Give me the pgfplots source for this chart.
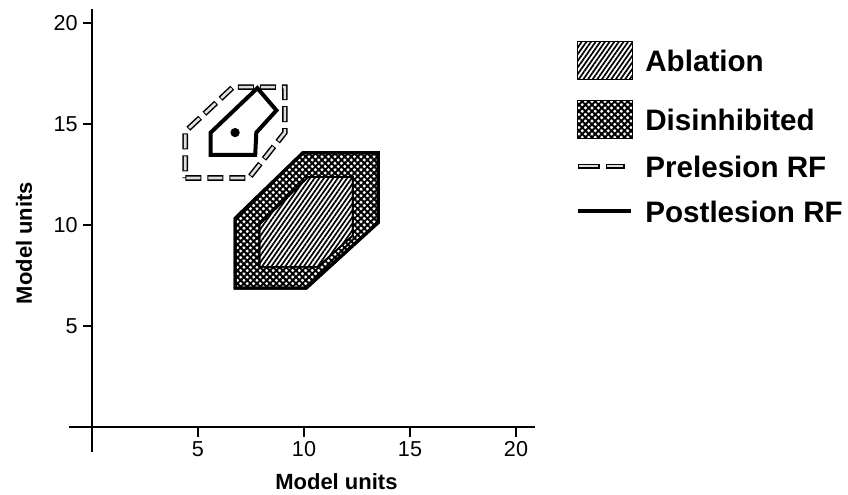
\documentclass[border=0pt]{standalone}
\usepackage{fontspec}
\setmainfont{Liberation Sans}
\usepackage{pgfplots}
\pgfplotsset{compat=1.18}
\usetikzlibrary{patterns.meta}
\tikzset{
  abl/.style={draw=black, line width=0.8bp, preaction={fill=white}, pattern={Lines[angle=55,distance=1.9bp,line width=0.85bp]}},
  dis/.style={draw=black, line width=1.6bp, preaction={fill=white}, pattern={Hatch[angle=45,distance=2.3bp,line width=1.0bp]}},
  disleg/.style={draw=black, line width=0.8bp, preaction={fill=white}, pattern={Hatch[angle=45,distance=2.3bp,line width=1.0bp]}},
  preout/.style={black, line width=2.8bp, line cap=butt, line join=miter, dash pattern=on 8bp off 3bp},
  prein/.style={gray!25, line width=1.3bp, line cap=butt, line join=miter, dash pattern=on 7bp off 4bp, dash phase=10.5bp},
  inv/.style={draw=none, fill=none},
}
\begin{document}
\begin{tikzpicture}
\begin{axis}[
  at={(0,0)}, anchor=origin,
  x=10.6bp, y=10.1bp,
  xmin=-1.1, xmax=20.9, ymin=-1.2, ymax=20.7,
  axis lines=middle,
  axis line style={-, line width=1bp},
  xtick={5,10,15,20}, ytick={5,10,15,20},
  tick align=outside,
  major tick length=4.5bp,
  tick style={line width=1bp, black},
  ticklabel style={font=\fontsize{10.8bp}{12bp}\selectfont},
  /pgf/number format/assume math mode=true,
  xticklabel style={anchor=north, inner sep=0pt, yshift=-2.5bp},
  yticklabel style={anchor=east, inner sep=0pt, xshift=-2.5bp},
  xlabel={Model units},
  ylabel={Model units},
  xlabel style={at={(axis description cs:0.574,0.0548)}, anchor=center, yshift=-27bp, font=\fontsize{11bp}{13bp}\selectfont\bfseries},
  ylabel style={at={(axis description cs:-0.0959,0.4717)}, anchor=center, rotate=90, font=\fontsize{11bp}{13bp}\selectfont\bfseries},
  clip=false,
  legend style={
    at={(axis description cs:1.0855,0.929)}, anchor=north west,
    draw=none, fill=none, inner sep=0pt, outer sep=0pt,
    row sep=5.5bp, column sep=6bp,
    font=\fontsize{14.8bp}{18bp}\selectfont\bfseries,
    nodes={inner sep=0pt, text height=11bp, text depth=0pt, anchor=west},
  },
  legend cell align=left,
]
% Disinhibited (outer)
\addplot[dis, forget plot] coordinates {(6.75,6.9) (10.1,6.9) (13.5,10.15) (13.5,13.6) (9.95,13.6) (6.75,10.35)} -- cycle;
% Ablation (inner)
\addplot[abl, forget plot] coordinates {(7.9,7.95) (10.65,7.95) (12.3,9.5) (12.3,12.4) (10.2,12.4) (7.9,10.05)} -- cycle;
% Prelesion RF
\addplot[preout, forget plot] coordinates {(4.4,12.35) (7.4,12.35) (9.1,14.6) (9.1,16.85) (6.65,16.85) (4.4,14.65)} -- cycle;
\addplot[prein, forget plot] coordinates {(4.4,12.35) (7.4,12.35) (9.1,14.6) (9.1,16.85) (6.65,16.85) (4.4,14.65)} -- cycle;
% Postlesion RF
\addplot[black, line width=2bp, line join=miter, forget plot] coordinates {(5.6,13.5) (7.7,13.5) (7.75,14.6) (8.7,15.7) (7.8,16.8) (5.6,14.6)} -- cycle;
% center point
\addplot[only marks, mark=*, mark size=2.1bp, black, forget plot] coordinates {(6.75,14.6)};

\addlegendimage{legend image code/.code={\draw[abl] (0bp,-9.5bp) rectangle (27.5bp,9.5bp); \path[inv] (0bp,-14bp) rectangle (27.5bp,9.5bp);}}
\addlegendentry{Ablation}
\addlegendimage{legend image code/.code={\draw[disleg] (0bp,-9.5bp) rectangle (27.5bp,9.5bp);}}
\addlegendentry{Disinhibited}
\addlegendimage{legend image code/.code={\path[inv] (0bp,-8bp) rectangle (24bp,8bp); \draw[black, line width=2.6bp] (0bp,0bp) -- (11bp,0bp) (14bp,0bp) -- (23.5bp,0bp); \draw[gray!25, line width=1.1bp] (0.7bp,0bp) -- (10.3bp,0bp) (14.7bp,0bp) -- (22.8bp,0bp);}}
\addlegendentry{Prelesion RF}
\addlegendimage{legend image code/.code={\path[inv] (0bp,-9bp) rectangle (26.5bp,9bp); \draw[black, line width=2bp] (0bp,0bp) -- (26.5bp,0bp);}}
\addlegendentry{Postlesion RF}
\end{axis}
\pgfresetboundingbox
\path[use as bounding box] (-46bp,-33.75bp) rectangle (378bp,213.75bp);
\end{tikzpicture}
\end{document}
